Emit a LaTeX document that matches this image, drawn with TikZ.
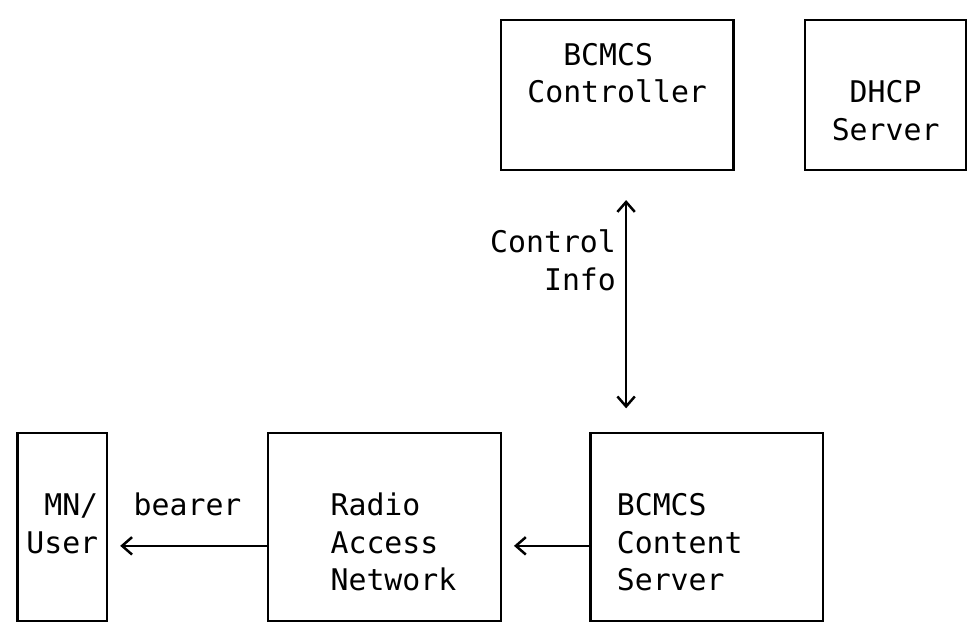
\documentclass[tikz,border=0pt]{standalone}
\usepackage{fontspec}
\usepackage{tikz}
\usetikzlibrary{arrows.meta}
\newfontfamily\asciifont{DejaVu Sans Mono}
\newcommand{\boxfont}{\asciifont\fontsize{12}{15.11}\selectfont}
\tikzset{
  box/.style  = {draw, rectangle, line width=1pt, inner sep=0pt, outer sep=0pt,
                 font=\boxfont},
  lbl/.style  = {inner sep=0pt, font=\boxfont},
  edge/.style = {->, >={Straight Barb[length=4pt, width=7pt]}, line width=1pt}
}

\begin{document}
\begin{tikzpicture}[x=7.2pt, y=-15.11pt]
  \useasboundingbox (-0.98,-0.532) rectangle (53.66,16.27);
  \node[box, align=center, minimum width=93.6pt, minimum height=60.44pt] (ctrl) at (33.5,2)
    {\strut BCMCS\hphantom{X}\\Controller\\\strut};
  \node[box, align=center, minimum width=64.8pt, minimum height=60.44pt] (dhcp) at (48.5,2)
    {\strut\\DHCP\\Server\strut};
  \node[box, align=right, minimum width=36pt, minimum height=75.55pt] (mn) at (2.5,13.5)
    {\strut\\MN/\\User\\\strut};
  \node[box, align=left, minimum width=93.6pt, minimum height=75.55pt] (ran) at (20.5,13.5)
    {\strut\\\hphantom{X}Radio\\\hphantom{X}Access\\\hphantom{X}Network\strut};
  \node[box, align=left, minimum width=93.6pt, minimum height=75.55pt] (cont) at (38.5,13.5)
    {\strut\\BCMCS\\Content\hphantom{XXX}\\Server\strut};
  \draw[edge, <->, shorten <=12pt, shorten >=10pt] ([xshift=3.6pt]ctrl.south)
    -- node[lbl, align=right, left=3.6pt, pos=0.357] (info) {\strut Control\\Info\strut}
    ([xshift=3.6pt]ctrl.south |- cont.north);
  \draw[edge, shorten >=5.3pt] ([yshift=-7.555pt]ran.west)
    -- node[lbl, yshift=15.11pt] (bearer) {\strut bearer} ([yshift=-7.555pt]mn.east);
  \draw[edge, shorten >=5.3pt] ([yshift=-7.555pt]cont.west) -- ([yshift=-7.555pt]ran.east);
\end{tikzpicture}
\end{document}
